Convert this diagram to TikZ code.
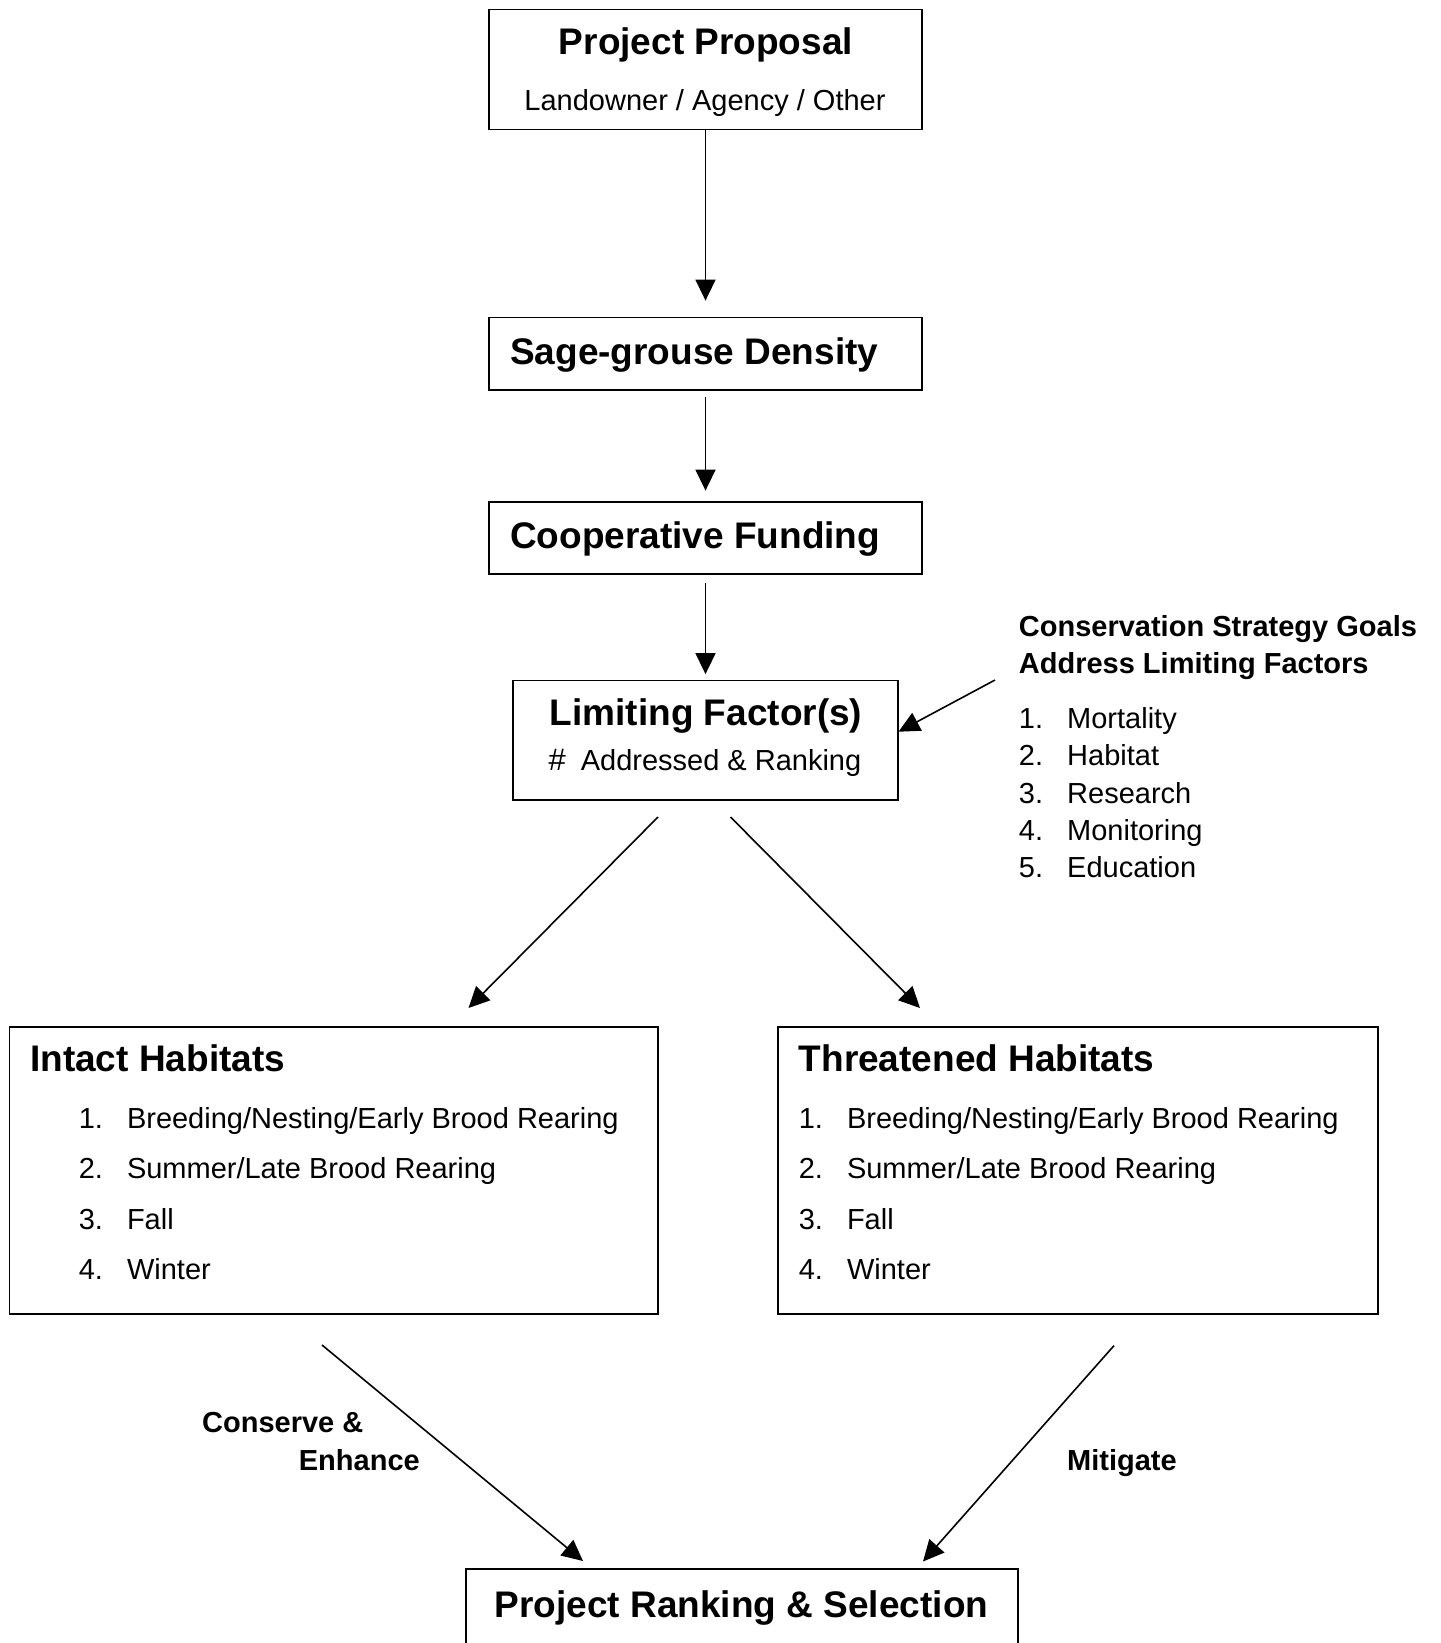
\documentclass[tikz,border=0pt]{standalone}
\usepackage{fontspec}
\setmainfont{Liberation Sans}
\usetikzlibrary{arrows.meta,calc}
\tikzset{
  box/.style={draw, line width=1.8pt, inner sep=0pt, rectangle},
  arr/.style={line width=1.6pt, -{Triangle[length=21pt,width=20pt]}},
  big/.style={inner sep=0pt, font=\fontsize{37}{44}\selectfont\bfseries},
  reg/.style={inner sep=0pt, font=\fontsize{29}{35}\selectfont},
  regb/.style={inner sep=0pt, font=\fontsize{29}{35}\selectfont\bfseries},
}
\begin{document}
\begin{tikzpicture}[x=1pt,y=-1pt]
\useasboundingbox (0,0) rectangle (1440,1643);
\fill[white] (0,0) rectangle (1440,1643);
\clip (0,0) rectangle (1440,1643);

% boxes
\node[box, minimum width=433pt, minimum height=120pt] (pp) at (705.5,69.5) {};
\node[box, minimum width=433pt, minimum height=72.5pt] (sg) at (705.5,353.75) {};
\node[box, minimum width=433pt, minimum height=72pt] (cf) at (705.5,538) {};
\node[box, minimum width=385pt, minimum height=119.5pt] (lf) at (705.5,740.25) {};
\node[box, minimum width=648.6pt, minimum height=287pt] (ih) at (333.7,1170.5) {};
\node[box, minimum width=600.4pt, minimum height=287pt] (th) at (1077.8,1170.5) {};
\node[box, minimum width=552pt, minimum height=120pt] (pr) at (742,1629) {};

% texts
\node[big, anchor=base] (ppt) at (706,55) {Project Proposal};
\node[reg, anchor=base] (pps) at (705,111) {Landowner / Agency / Other};
\node[big, anchor=base west] (sgt) at (510,364) {Sage-grouse Density};
\node[big, anchor=base west] (cft) at (510,548.5) {Cooperative Funding};
\node[big, anchor=base] (lft) at (706,725.7) {Limiting Factor(s)};
\node[inner sep=0pt, anchor=base west, font=\fontsize{31}{36}\selectfont\itshape] (lfh) at (548,770) {\#};
\node[reg, anchor=base west] (lfs) at (580.6,770) {Addressed \& Ranking};

\node[regb, anchor=base west] (cs1) at (1018.7,636) {Conservation Strategy Goals};
\node[regb, anchor=base west] (cs2) at (1018.7,673) {Address Limiting Factors};
\foreach \i/\t/\y in {1/Mortality/728, 2/Habitat/765.5, 3/Research/803, 4/Monitoring/840, 5/Education/877}{
  \node[reg, anchor=base west] (csn\i) at (1018.7,\y) {\i.};
  \node[reg, anchor=base west] (cst\i) at (1067,\y) {\t};
}

\node[big, anchor=base west] (iht) at (30,1071.7) {Intact Habitats};
\node[big, anchor=base west] (tht) at (798.6,1071.7) {Threatened Habitats};
\foreach \i/\t/\y in {1/Breeding\slash Nesting\slash Early Brood Rearing/1128, 2/Summer\slash Late Brood Rearing/1178.5, 3/Fall/1229, 4/Winter/1279}{
  \node[reg, anchor=base west] (ihn\i) at (78.6,\y) {\i.};
  \node[reg, anchor=base west] (iht\i) at (126.8,\y) {\t};
  \node[reg, anchor=base west] (thn\i) at (798.6,\y) {\i.};
  \node[reg, anchor=base west] (tht\i) at (846.8,\y) {\t};
}

\node[regb, anchor=base west] (ce1) at (202,1432) {Conserve \&};
\node[regb, anchor=base west] (ce2) at (298.7,1470) {Enhance};
\node[regb, anchor=base west] (mit) at (1067,1470) {Mitigate};
\node[big, anchor=base] (prt) at (741.5,1617) {Project Ranking \& Selection};

% connector end points
\coordinate (csa) at (995,680);
\coordinate (lfa) at (898.5,731.7);
\coordinate (la1) at (658,817);
\coordinate (ia1) at (468.5,1008);
\coordinate (la2) at (730.5,817);
\coordinate (ta1) at (920,1008);
\coordinate (ib) at (322,1345);
\coordinate (pa1) at (583,1561);
\coordinate (tb) at (1114,1345.6);
\coordinate (pa2) at (923,1561.5);

% connectors
\draw[arr, shorten >=16pt] (pp.south) -- (sg.north);
\draw[arr, shorten <=6pt, shorten >=10.5pt] (sg.south) -- (cf.north);
\draw[arr, shorten <=7.6pt, shorten >=5.5pt] (cf.south) -- (lf.north);
\draw[arr] (csa) -- (lfa);
\draw[arr] (la1) -- (ia1);
\draw[arr] (la2) -- (ta1);
\draw[arr] (ib) -- (pa1);
\draw[arr] (tb) -- (pa2);
\end{tikzpicture}
\end{document}
